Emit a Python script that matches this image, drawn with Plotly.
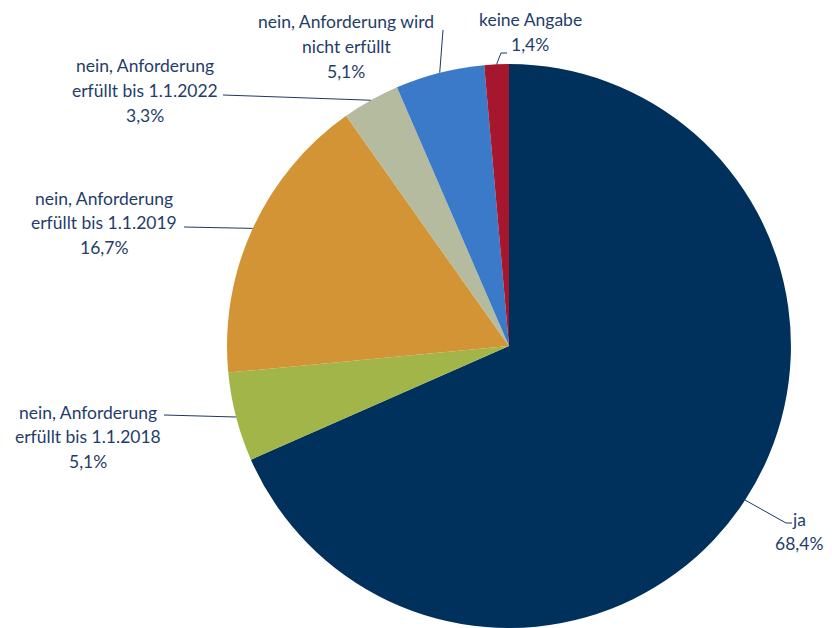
import math
import plotly.graph_objects as go

# Survey answers, in clockwise order starting at 12 o'clock
categories = [
    "ja",
    "nein, Anforderung<br>erfüllt bis 1.1.2018",
    "nein, Anforderung<br>erfüllt bis 1.1.2019",
    "nein, Anforderung<br>erfüllt bis 1.1.2022",
    "nein, Anforderung wird<br>nicht erfüllt",
    "keine Angabe",
]
shares = [68.4, 5.1, 16.7, 3.3, 5.1, 1.4]
colors = ["#00305C", "#A2B548", "#D29434", "#B5BB9F", "#3B79C9", "#A6172D"]

W, H = 832, 628
TEXT_COLOR = "#1F3D6A"
LINE_COLOR = "#1F3864"
FONT = "Lato"
FONT_SIZE = 17.5
LINE_STEP = 24.5

# pie placement (pixels)
dom_x = [0.2704, 0.9531]
dom_y = [0.0, 0.898]
cx = (dom_x[0] + dom_x[1]) / 2 * W
cy = H - (dom_y[0] + dom_y[1]) / 2 * H
radius = min((dom_x[1] - dom_x[0]) * W, (dom_y[1] - dom_y[0]) * H) / 2

# label block: centre x, y of first text line, leader path after the slice edge
label_layout = [
    dict(x=799, y=519, path=[(786, 523), (792, 523)]),
    dict(x=88, y=412, path=[(164, 415)]),
    dict(x=104, y=198, path=[(184, 227)]),
    dict(x=145, y=66, path=[(223, 95)]),
    dict(x=346, y=22, path=[(443, 30)]),
    dict(x=530, y=20, path=[(501, 53), (507, 53)]),
]


def px(x):
    return x / W


def py(y):
    return 1 - y / H


fig = go.Figure(
    go.Pie(
        labels=categories,
        values=shares,
        sort=False,
        direction="clockwise",
        rotation=0,
        marker=dict(colors=colors, line=dict(width=0)),
        textinfo="none",
        hoverinfo="label+percent",
        domain=dict(x=dom_x, y=dom_y),
        showlegend=False,
    )
)

total = sum(shares)
start = 0.0
shapes = []
annotations = []
for name, val, lay in zip(categories, shares, label_layout):
    mid = (start + val / 2) / total * 2 * math.pi
    start += val
    ex = cx + radius * math.sin(mid)
    ey = cy - radius * math.cos(mid)
    pts = [(ex, ey)] + lay["path"]
    for (x0, y0), (x1, y1) in zip(pts[:-1], pts[1:]):
        shapes.append(dict(
            type="line", xref="paper", yref="paper",
            x0=px(x0), y0=py(y0), x1=px(x1), y1=py(y1),
            line=dict(color=LINE_COLOR, width=1),
        ))
    lines = name.split("<br>") + [f"{val:.1f}%".replace(".", ",")]
    for i, txt in enumerate(lines):
        annotations.append(dict(
            text=txt, xref="paper", yref="paper",
            x=px(lay["x"]), y=py(lay["y"] + i * LINE_STEP),
            xanchor="center", yanchor="middle", showarrow=False,
            font=dict(family=FONT, size=FONT_SIZE, color=TEXT_COLOR),
        ))

fig.update_layout(
    width=W, height=H,
    margin=dict(l=0, r=0, t=0, b=0),
    paper_bgcolor="white",
    plot_bgcolor="white",
    shapes=shapes,
    annotations=annotations,
)

fig.write_html("out.html")
